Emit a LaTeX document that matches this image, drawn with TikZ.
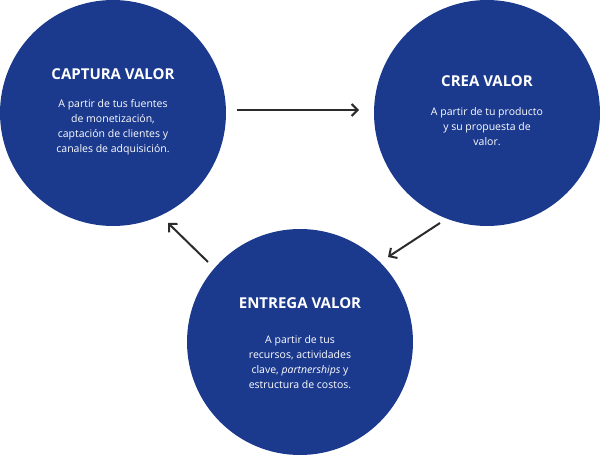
\documentclass[tikz,border=0pt]{standalone}
\usepackage{fontspec}
\setmainfont{Open Sans}
\usetikzlibrary{arrows.meta}
\definecolor{cblue}{HTML}{1B3A8E}
\definecolor{arr}{HTML}{2B2B2B}
\begin{document}
\begin{tikzpicture}[x=1pt,y=-1pt,
  circ/.style={circle,fill=cblue,minimum size=226pt,inner sep=0pt},
  ttl/.style={text=white,font=\fontsize{15}{18}\selectfont\bfseries},
  body/.style={text=white,font=\fontsize{10.5}{15}\selectfont,align=center},
  con/.style={draw=arr,line width=2pt,-{Straight Barb[length=6pt,width=12pt]}}]
\useasboundingbox (0,0) rectangle (600,455);
\node[circ] (c1) at (113,113) {};
\node[circ] (c2) at (487,113) {};
\node[circ] (c3) at (300,342) {};
\node[ttl] (t1) at (113,74) {CAPTURA VALOR};
\node[body] (b1) at (113,127) {A partir de tus fuentes\\de monetización,\\captación de clientes y\\canales de adquisición.};
\node[ttl] (t2) at (487,81) {CREA VALOR};
\node[body] (b2) at (487,127) {A partir de tu producto\\y su propuesta de\\valor.};
\node[ttl] (t3) at (300,303) {ENTREGA VALOR};
\node[body] (b3) at (300,362) {A partir de tus\\recursos, actividades\\clave, \textit{partnerships} y\\estructura de costos.};
\coordinate (a1) at (237,110); \coordinate (a2) at (359,110);
\coordinate (a3) at (440,223); \coordinate (a4) at (388,257);
\coordinate (a5) at (208,262); \coordinate (a6) at (168,223);
\draw[con] (a1) -- (a2);
\draw[con] (a3) -- (a4);
\draw[con] (a5) -- (a6);
\end{tikzpicture}
\end{document}
